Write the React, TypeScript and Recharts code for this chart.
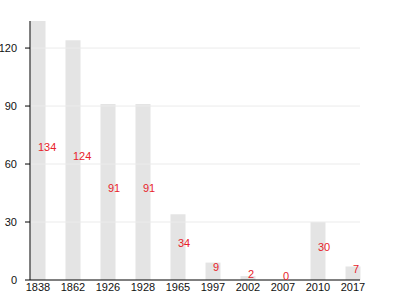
import React from "react";
import {
  BarChart,
  Bar,
  XAxis,
  YAxis,
  ReferenceLine,
  LabelList,
} from "recharts";

const years: string[] = [
  "1838",
  "1862",
  "1926",
  "1928",
  "1965",
  "1997",
  "2002",
  "2007",
  "2010",
  "2017",
];
const counts: number[] = [134, 124, 91, 91, 34, 9, 2, 0, 30, 7];
const yTicks: number[] = [0, 30, 60, 90, 120];
const gridValues: number[] = [30, 60, 90, 120];

const data = years.map((year, i) => ({ year, count: counts[i] }));

const FONT = "Liberation Sans, Arial, sans-serif";

// label starts at the bar centre, a few px above the middle of the bar
const BarLabel = (props: any) => {
  const { x, y, width, height, value } = props;
  return (
    <text
      x={x + width / 2}
      y={y + height / 2 - 4}
      fill="#e8232b"
      fontSize={11}
      fontFamily={FONT}
      textAnchor="start"
      dominantBaseline="central"
    >
      {value}
    </text>
  );
};

export default function App(): JSX.Element {
  return (
    <div style={{ position: "absolute", left: 0, top: 0, background: "#fff" }}>
      <BarChart
        width={400}
        height={300}
        data={data}
        margin={{ top: 21, right: 40, left: 0, bottom: 0 }}
        barCategoryGap={0}
      >
        {gridValues.map((v) => (
          <ReferenceLine key={v} y={v} stroke="#ebebeb" />
        ))}
        <XAxis
          dataKey="year"
          height={20}
          padding={{ left: -9.5, right: -10.5 }}
          tickLine={false}
          axisLine={{ stroke: "#000" }}
          tickMargin={3}
          tickSize={0}
          tick={{ fill: "#111", fontSize: 11, fontFamily: FONT }}
          interval={0}
        />
        <YAxis
          width={30}
          domain={[0, 134]}
          ticks={yTicks}
          allowDataOverflow
          axisLine={{ stroke: "#000" }}
          tickLine={{ stroke: "#000" }}
          tickSize={5}
          tickMargin={8}
          tick={{ fill: "#111", fontSize: 11, fontFamily: FONT }}
        />
        <Bar
          dataKey="count"
          fill="#e4e4e4"
          barSize={15}
          minPointSize={(v: number) => (v === 0 ? 0.01 : 0)}
          isAnimationActive={false}
        >
          <LabelList dataKey="count" content={<BarLabel />} />
        </Bar>
      </BarChart>
    </div>
  );
}
